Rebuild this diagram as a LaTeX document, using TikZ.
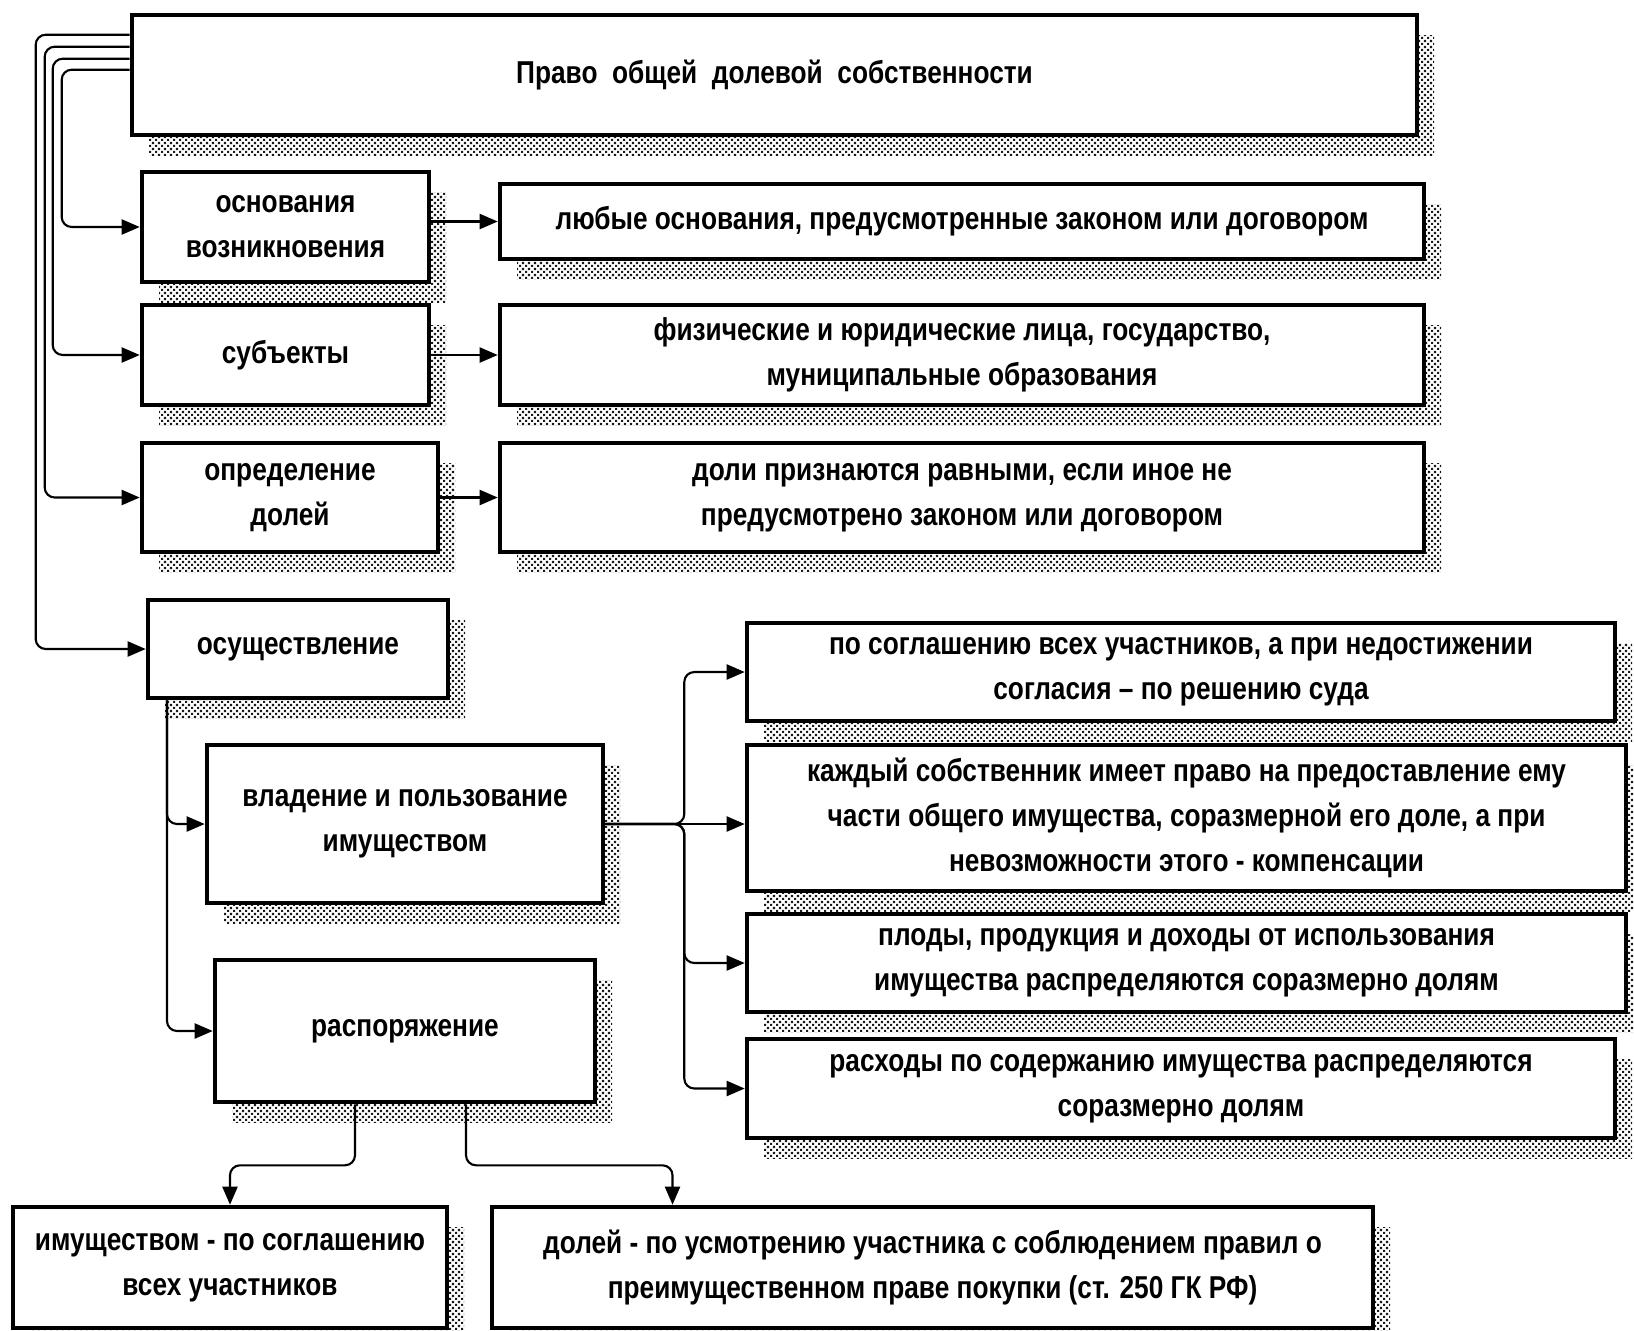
\documentclass[tikz,border=0pt]{standalone}
\usepackage{fontspec}
\setmainfont{Liberation Sans}[FakeStretch=0.83]
\usepackage{tikz}
\usetikzlibrary{arrows.meta}
\usetikzlibrary{patterns}

% fine dot screen for the shadows
\pgfdeclarepatternformonly{shadowdots}{\pgfpointorigin}{\pgfpoint{1.7pt}{1.7pt}}{\pgfpoint{1.7pt}{1.7pt}}{
	\pgfpathrectangle{\pgfpointorigin}{\pgfpoint{0.6pt}{0.6pt}}
	\pgfpathrectangle{\pgfpoint{0.85pt}{0.85pt}}{\pgfpoint{0.6pt}{0.6pt}}
	\pgfusepath{fill}}

\begin{document}
\begin{tikzpicture}
	\tikzstyle{every node}=[font=\bfseries\fontsize{9}{12.8}\selectfont]
	\tikzstyle{box}=[draw, line width=1.3pt, fill=white, align=center, inner sep=1pt,
		preaction={draw=none, pattern=shadowdots, pattern color=black!90, transform canvas={shift={(0.17,-0.2)}}}]
	\tikzstyle{link}=[line width=0.6pt, rounded corners=1mm, -{Triangle[length=1.8mm,width=1.5mm]}]
	
	\useasboundingbox (0,0) rectangle (16.34,-13.30);
	
	\node[box, minimum width=12.85cm, minimum height=1.20cm] (top) at (7.745,-0.75) {Право\ \ общей\ \ долевой\ \ собственности};
	
	\node[box, minimum width=2.87cm, minimum height=1.10cm] (osn) at (2.855,-2.27) {основания\\возникновения};
	\node[box, minimum width=9.24cm, minimum height=0.75cm] (lyub) at (9.62,-2.215) {любые основания, предусмотренные законом или договором};
	\node[box, minimum width=2.87cm, minimum height=1.00cm] (subj) at (2.855,-3.55) {субъекты};
	\node[box, minimum width=9.24cm, minimum height=1.00cm] (fiz) at (9.62,-3.55) {физические и юридические лица, государство,\\муниципальные образования};
	\node[box, minimum width=2.96cm, minimum height=1.09cm] (opr) at (2.90,-4.975) {определение\\долей};
	\node[box, minimum width=9.24cm, minimum height=1.09cm] (doli) at (9.62,-4.975) {доли признаются равными, если иное не\\предусмотрено законом или договором};
	\node[box, minimum width=3.00cm, minimum height=0.98cm] (osush) at (2.98,-6.49) {осуществление};
	
	\node[box, minimum width=3.96cm, minimum height=1.58cm] (vlad) at (4.05,-8.24) {владение и пользование\\имуществом};
	\node[box, minimum width=3.80cm, minimum height=1.42cm] (rasp) at (4.05,-10.31) {распоряжение};
	
	\node[box, minimum width=8.68cm, minimum height=0.98cm] (soglas) at (11.81,-6.72) {по соглашению всех участников, а при недостижении\\согласия – по решению суда};
	\node[box, minimum width=8.79cm, minimum height=1.46cm] (kazhd) at (11.865,-8.18) {каждый собственник имеет право на предоставление ему\\части общего имущества, соразмерной его доле, а при\\невозможности этого - компенсации};
	\node[box, minimum width=8.79cm, minimum height=0.98cm] (plody) at (11.865,-9.63) {плоды, продукция и доходы от использования\\имущества распределяются соразмерно долям};
	\node[box, minimum width=8.68cm, minimum height=0.99cm] (rashod) at (11.81,-10.885) {расходы по содержанию имущества распределяются\\соразмерно долям};
	
	\node[box, minimum width=4.34cm, minimum height=1.21cm] (imush) at (2.30,-12.675) {имуществом - по соглашению\\всех участников};
	\node[box, minimum width=8.81cm, minimum height=1.21cm] (dolei) at (9.325,-12.675) {долей - по усмотрению участника с соблюдением правил о\\преимущественном праве покупки (ст. 250 ГК РФ)};
	
	% from the title box
	\draw[link] ([yshift=-5.7mm]top.north west) -- ++(-0.68,0) |- (osn.west);
	\draw[link] ([yshift=-4.6mm]top.north west) -- ++(-0.77,0) |- (subj.west);
	\draw[link] ([yshift=-3.4mm]top.north west) -- ++(-0.85,0) |- (opr.west);
	\draw[link] ([yshift=-2.2mm]top.north west) -- ++(-0.94,0) |- (osush.west);
	
	\draw[link] (osn.east |- lyub.west) -- (lyub.west);
	\draw[link] (subj.east) -- (fiz.west);
	\draw[link] (opr.east) -- (doli.west);
	
	\draw[link] ([xshift=-13.1mm]osush.south) |- (vlad.west);
	\draw[link] ([xshift=-13.1mm]osush.south) |- (rasp.west);
	
	% brace to the right
	\draw[link] (vlad.east) -- ++(0.79,0) |- (soglas.west);
	\draw[link] (vlad.east) -- (vlad.east -| kazhd.west);
	\draw[link] (vlad.east) -- ++(0.79,0) |- (plody.west);
	\draw[link] (vlad.east) -- ++(0.79,0) |- (rashod.west);
	
	\draw[link] ([xshift=-5mm]rasp.south) -- ++(0,-0.61) -| (imush.north);
	\draw[link] ([xshift=6.1mm]rasp.south) -- ++(0,-0.61) -| ([xshift=-26mm]dolei.north);
	
\end{tikzpicture}
\end{document}
